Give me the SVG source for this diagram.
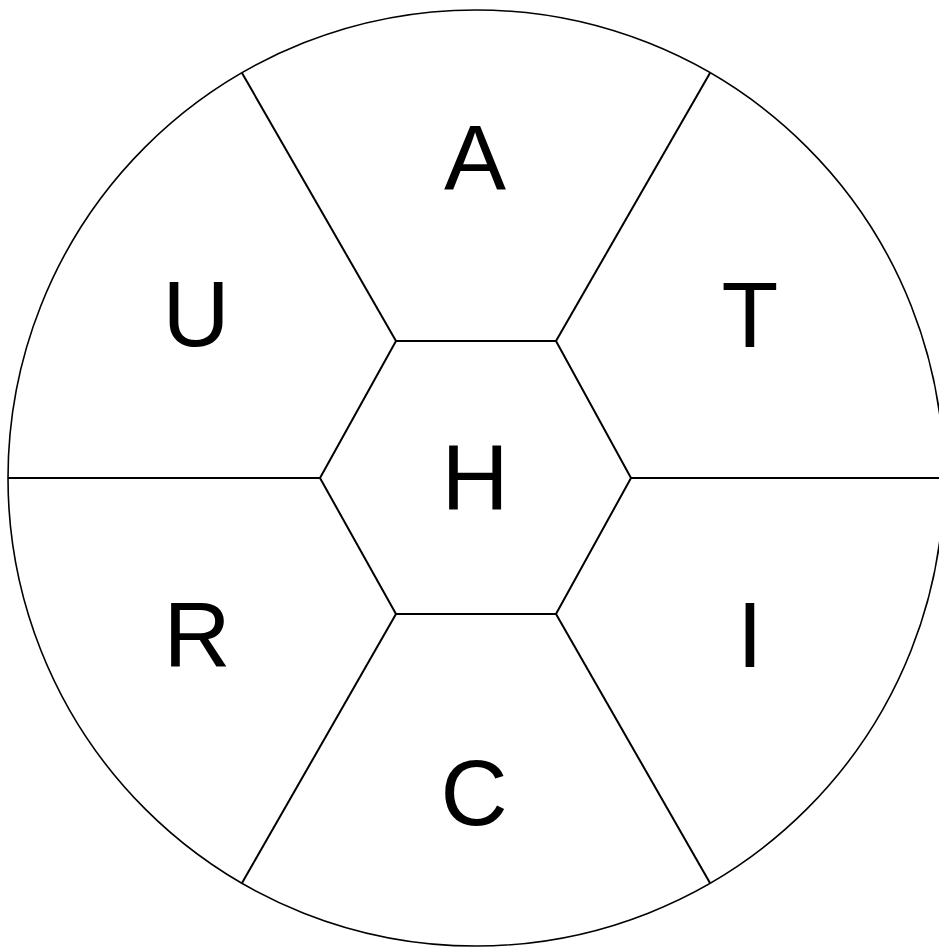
<svg xmlns="http://www.w3.org/2000/svg" width="939" height="948" viewBox="0 0 939 948">
<style>
.ln{fill:none;stroke:#000;stroke-width:2}
.lbl{font-family:"Liberation Sans",Arial,sans-serif;font-size:93px;fill:#000;text-anchor:middle}
</style>
<rect width="939" height="948" fill="#fff"/>
<g id="connectors">
<circle class="ln" cx="476" cy="478" r="468" style="stroke-width:1.6"/>
<polygon class="ln" points="396,341 556,341 631,478 556,614 396,614 320,478"/>
<line class="ln" x1="396" y1="341" x2="242" y2="73"/>
<line class="ln" x1="556" y1="341" x2="710" y2="73"/>
<line class="ln" x1="631" y1="478" x2="944" y2="478"/>
<line class="ln" x1="320" y1="478" x2="8" y2="478"/>
<line class="ln" x1="556" y1="614" x2="710" y2="883"/>
<line class="ln" x1="396" y1="614" x2="242" y2="883"/>
</g>
<g id="node-A"><text class="lbl" x="475" y="190">A</text></g>
<g id="node-T"><text class="lbl" x="750" y="347">T</text></g>
<g id="node-U"><text class="lbl" x="196" y="346">U</text></g>
<g id="node-H"><text class="lbl" x="475" y="510">H</text></g>
<g id="node-R"><text class="lbl" x="197" y="667">R</text></g>
<g id="node-I"><text class="lbl" x="750" y="667">I</text></g>
<g id="node-C"><text class="lbl" x="474" y="825">C</text></g>
</svg>
